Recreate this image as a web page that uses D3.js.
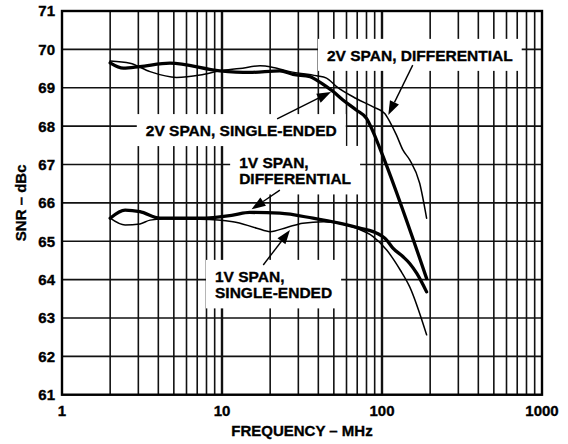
<!DOCTYPE html>
<html><head><meta charset="utf-8">
<script src="https://cdn.jsdelivr.net/npm/d3@7"></script>
<style>body{margin:0;background:#fff}svg{display:block}text{font-family:"Liberation Sans",Arial,Helvetica,sans-serif;font-weight:bold;fill:#000;stroke:#000;stroke-width:0.35px}</style>
</head><body><svg id="c" width="568" height="444"></svg>
<script>
// ---- data ----
const yTicks = [61,62,63,64,65,66,67,68,69,70,71];
const xTickLabels = [1,10,100,1000];
const xGrid = [2,3,4,5,6,7,8,9,10,20,30,40,50,60,70,80,90,100,200,300,400,500,600,700,800,900];

const freq2VDiff = [2,2.66,3.55,5.2,7.3,9.7,12.9,17.3,20.8,26.6,39,45,52,69,88,104,112,123,135,149,172,190];
const snr2VDiff  = [69.70,69.64,69.42,69.27,69.33,69.44,69.50,69.57,69.53,69.42,69.31,69.25,69.03,68.72,68.50,68.33,68.11,67.77,67.38,67.12,66.51,65.60];

const freq2VSE = [2,2.42,3.07,4.73,9.7,14.9,23,27.8,35.5,39,45,49.5,57,69,80,88,97,190];
const snr2VSE  = [69.65,69.51,69.55,69.64,69.44,69.40,69.44,69.35,69.29,69.20,69.03,68.90,68.68,68.42,68.20,67.85,67.42,64.03];

const freq1VDiff = [2,2.48,3.07,4.1,7.3,11.7,14.9,23,37,54,72.6,88,107,117,135,149,165,190];
const snr1VDiff  = [65.60,65.81,65.77,65.60,65.60,65.68,65.75,65.73,65.60,65.47,65.34,65.25,65.03,64.82,64.60,64.42,64.16,63.68];

const freq1VSE = [2,2.48,3.07,3.55,4.3,7.3,11.7,16.5,20,25.4,32,43,54,69,88,107,130,149,190];
const snr1VSE  = [65.60,65.42,65.45,65.55,65.58,65.57,65.51,65.34,65.25,65.36,65.47,65.51,65.47,65.34,65.12,64.77,64.25,63.81,62.56];

const labels = [
  {lines:["2V SPAN, DIFFERENTIAL"], f:45.3, v:69.70},
  {lines:["2V SPAN, SINGLE-ENDED"], f:3.34, v:67.74},
  {lines:["1V SPAN,","DIFFERENTIAL"], f:12.8, v:66.91},
  {lines:["1V SPAN,","SINGLE-ENDED"], f:9.04, v:63.94}
];
const arrows = [
  {f0:155.6,v0:69.59,f1:109.5,v1:68.29},
  {f0:22.1,v0:68.19,f1:48.0,v1:68.89},
  {f0:23.0,v0:66.33,f1:15.3,v1:65.83},
  {f0:18.1,v0:64.38,f1:26.6,v1:65.29}
];

// ---- chart ----
const svg = d3.select("#c");
const x = d3.scaleLog().domain([1,1000]).range([62,542]);
const y = d3.scaleLinear().domain([61,71]).range([394.7,11]);

const g = svg.append("g");
// grid
g.selectAll(".hg").data(yTicks).enter().append("line")
  .attr("x1",x(1)).attr("x2",x(1000)).attr("y1",d=>y(d)).attr("y2",d=>y(d))
  .attr("stroke","#111").attr("stroke-width",1.6);
g.selectAll(".vg").data(xGrid).enter().append("line")
  .attr("x1",d=>x(d)).attr("x2",d=>x(d)).attr("y1",y(61)).attr("y2",y(71))
  .attr("stroke","#111").attr("stroke-width",d=>(d===10||d===100)?2.4:1.6);
// border
g.append("rect").attr("x",x(1)).attr("y",y(71)).attr("width",x(1000)-x(1)).attr("height",y(61)-y(71))
  .attr("fill","none").attr("stroke","#000").attr("stroke-width",2.4);

// tick labels
g.selectAll(".yl").data(yTicks).enter().append("text")
  .attr("x",55).attr("y",d=>y(d)).attr("dy","0.36em").attr("text-anchor","end")
  .style("font-size","15px").text(d=>d);
g.selectAll(".xl").data(xTickLabels).enter().append("text")
  .attr("x",d=>x(d)).attr("y",416).attr("text-anchor","middle")
  .style("font-size","15px").text(d=>d);
g.append("text").attr("x",(x(1)+x(1000))/2).attr("y",436).attr("text-anchor","middle")
  .style("font-size","15px").text("FREQUENCY – MHz");
g.append("text").attr("transform",`translate(26,${(y(61)+y(71))/2}) rotate(-90)`)
  .attr("text-anchor","middle").style("font-size","15px").text("SNR – dBc");

// labels with white boxes
const lg = svg.append("g");
labels.forEach(L=>{
  const gg = lg.append("g");
  const rect = gg.append("rect").attr("fill","#fff");
  const t = gg.append("text").style("font-size","15.5px");
  L.lines.forEach((s,i)=>t.append("tspan").attr("x",x(L.f)).attr("y",y(L.v)+i*16.5).text(s));
  const b = t.node().getBBox();
  rect.attr("x",b.x-9).attr("y",b.y-8).attr("width",b.width+18).attr("height",b.height+15);
});

// curves
const line = d3.line().x(d=>x(d[0])).y(d=>y(d[1])).curve(d3.curveMonotoneX);
const zip = (a,b)=>a.map((f,i)=>[f,b[i]]);
const series = [
  {f:freq2VDiff,v:snr2VDiff,w:1.5},
  {f:freq2VSE,v:snr2VSE,w:3.3},
  {f:freq1VDiff,v:snr1VDiff,w:3.3},
  {f:freq1VSE,v:snr1VSE,w:1.5}
];
svg.append("g").selectAll("path").data(series).enter().append("path")
  .attr("d",s=>line(zip(s.f,s.v))).attr("fill","none").attr("stroke","#000")
  .attr("stroke-width",s=>s.w).attr("stroke-linejoin","round").attr("stroke-linecap","round");

// arrows
const ag = svg.append("g");
arrows.forEach(a=>{
  const x0=x(a.f0),y0=y(a.v0),x1=x(a.f1),y1=y(a.v1);
  const ang=Math.atan2(y1-y0,x1-x0), L=14, W=5;
  const bx=x1-L*Math.cos(ang), by=y1-L*Math.sin(ang);
  ag.append("line").attr("x1",x0).attr("y1",y0).attr("x2",bx).attr("y2",by)
    .attr("stroke","#000").attr("stroke-width",1.4);
  const px=-Math.sin(ang)*W, py=Math.cos(ang)*W;
  ag.append("path").attr("d",`M${x1},${y1}L${bx+px},${by+py}L${bx-px},${by-py}Z`).attr("fill","#000");
});
</script></body></html>
